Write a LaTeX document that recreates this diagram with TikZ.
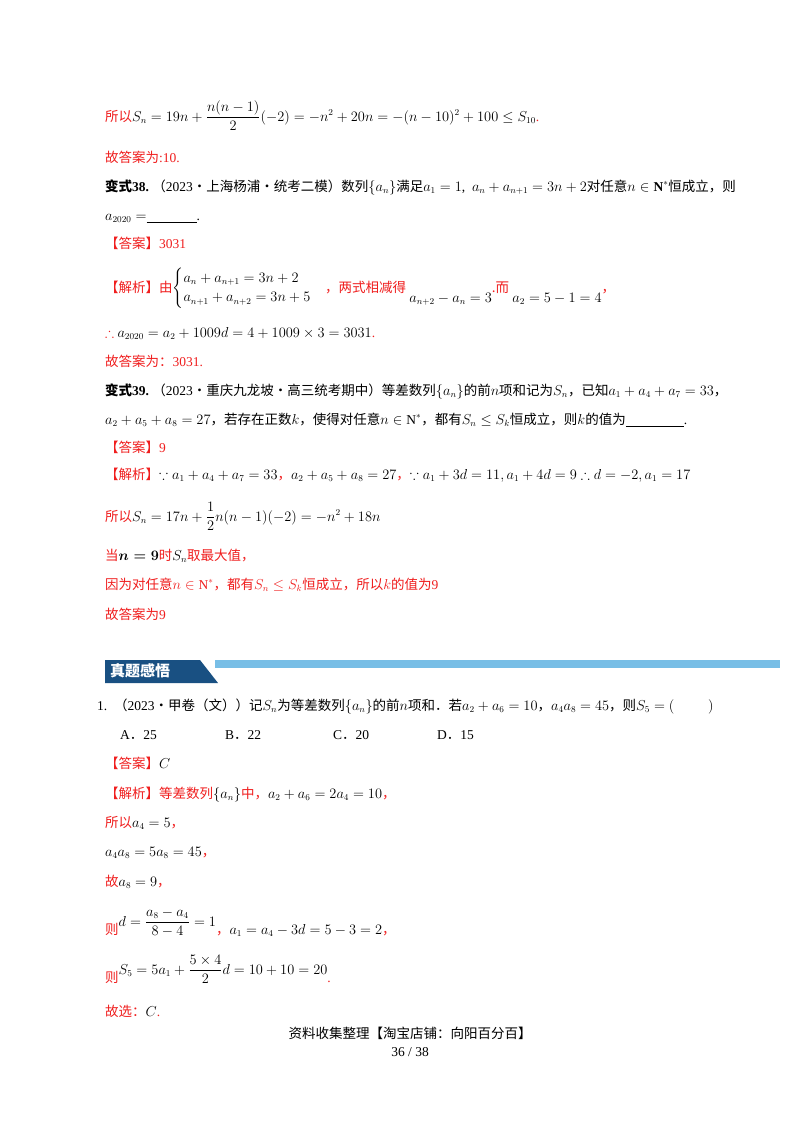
\documentclass[tikz,border=0pt]{standalone}
\usepackage{amsmath,amssymb}
\usepackage{fontspec}
\setmainfont{Liberation Serif}
\newfontfamily\cjk{Noto Sans CJK SC}
\definecolor{rd}{RGB}{240,30,30}
\definecolor{dkb}{RGB}{25,80,130}
\definecolor{ltb}{RGB}{120,190,230}
\newcommand{\zh}[1]{{\cjk #1}}
\newcommand{\R}[1]{\textcolor{rd}{#1}}
\begin{document}
\begin{tikzpicture}[x=1pt,y=-1pt,
  ln/.style={anchor=base west,inner sep=0pt,font=\fontsize{13.5}{16}\selectfont}]
\useasboundingbox (0,0) rectangle (800,1132);
\fill[white] (0,0) rectangle (800,1132);
\node[ln] (l1) at (105,121) {\R{\zh{所以}}$S_n=19n+\dfrac{n(n-1)}{2}(-2)=-n^2+20n=-(n-10)^2+100\le S_{10}$\R{.}};
\node[ln] (l2) at (105,162) {\R{\zh{故答案为}:10.}};
\node[ln] (l3) at (105,191) {\textbf{\zh{变式}38.}\ \zh{（}2023\zh{·上海杨浦·统考二模）数列}$\{a_n\}$\zh{满足}$a_1=1$,\ \ $a_n+a_{n+1}=3n+2$\zh{对任意}$n\in\mathbf{N}^*$\zh{恒成立，则}};
\node[ln] (l4) at (105,220) {$a_{2020}=$\underline{\hspace{50pt}}.};
\node[ln] (l5) at (105,248) {\R{\zh{【答案】}3031}};
\node[ln] (l6) at (105,292) {\R{\zh{【解析】由}}$\begin{cases}a_n+a_{n+1}=3n+2\\ a_{n+1}+a_{n+2}=3n+5\end{cases}$\R{\zh{，两式相减得}}\ \raisebox{-10pt}{$a_{n+2}-a_n=3$}\R{\zh{.而}}\ \raisebox{-10pt}{$a_2=5-1=4$}\R{\zh{，}}};
\node[ln] (l7) at (105,337) {\R{$\therefore$}\ $a_{2020}=a_2+1009d=4+1009\times3=3031$\R{.}};
\node[ln] (l8) at (105,366) {\R{\zh{故答案为：}3031.}};
\node[ln] (l9) at (105,395) {\textbf{\zh{变式}39.}\ \zh{（}2023\zh{·重庆九龙坡·高三统考期中）等差数列}$\{a_n\}$\zh{的前}$n$\zh{项和记为}$S_n$\zh{，已知}$a_1+a_4+a_7=33$\zh{，}};
\node[ln] (l10) at (105,424) {$a_2+a_5+a_8=27$\zh{，若存在正数}$k$\zh{，使得对任意}$n\in\mathrm{N}^*$\zh{，都有}$S_n\le S_k$\zh{恒成立，则}$k$\zh{的值为}\underline{\hspace{58pt}}.};
\node[ln] (l11) at (105,452) {\R{\zh{【答案】}9}};
\node[ln] (l12) at (105,479) {\R{\zh{【解析】}}$\because a_1+a_4+a_7=33$\R{\zh{，}}$a_2+a_5+a_8=27$\R{\zh{，}}$\because a_1+3d=11,a_1+4d=9\therefore d=-2,a_1=17$};
\node[ln] (l13) at (105,521) {\R{\zh{所以}}$S_n=17n+\dfrac12n(n-1)(-2)=-n^2+18n$};
\node[ln] (l14) at (105,560) {\R{\zh{当}}$\boldsymbol{n=9}$\R{\zh{时}}$S_n$\R{\zh{取最大值，}}};
\node[ln] (l15) at (105,589) {\R{\zh{因为对任意}$n\in\mathrm{N}^*$\zh{，都有}$S_n\le S_k$\zh{恒成立，所以}$k$\zh{的值为}9}};
\node[ln] (l16) at (105,619) {\R{\zh{故答案为}9}};
% banner
\fill[ltb] (215,660) rectangle (780,668);
\fill[dkb] (105,660) -- (200,660) -- (218,683) -- (105,683) -- cycle;
\node[anchor=west,inner sep=0pt,text=white,font=\cjk\bfseries\fontsize{15}{16}\selectfont] (ban) at (110,671) {真题感悟};
\node[ln] (l17) at (97,710) {1.\ \ \zh{（}2023\zh{•甲卷（文））记}$S_n$\zh{为等差数列}$\{a_n\}$\zh{的前}$n$\zh{项和．若}$a_2+a_6=10$\zh{，}$a_4a_8=45$\zh{，则}$S_5=(\qquad\ \ )$};
\node[ln] (oa) at (120,739) {A\zh{．}25};
\node[ln] (ob) at (225,739) {B\zh{．}22};
\node[ln] (oc) at (333,739) {C\zh{．}20};
\node[ln] (od) at (437,739) {D\zh{．}15};
\node[ln] (l19) at (105,768) {\R{\zh{【答案】}}$C$};
\node[ln] (l20) at (105,798) {\R{\zh{【解析】等差数列}}$\{a_n\}$\R{\zh{中，}}$a_2+a_6=2a_4=10$\R{\zh{，}}};
\node[ln] (l21) at (105,827) {\R{\zh{所以}}$a_4=5$\R{\zh{，}}};
\node[ln] (l22) at (105,856) {$a_4a_8=5a_8=45$\R{\zh{，}}};
\node[ln] (l23) at (105,886) {\R{\zh{故}}$a_8=9$\R{\zh{，}}};
\node[ln] (l24) at (105,934) {\R{\zh{则}}\raisebox{8pt}{$d=\dfrac{a_8-a_4}{8-4}=1$}\R{\zh{，}}$a_1=a_4-3d=5-3=2$\R{\zh{，}}};
\node[ln] (l25) at (105,982) {\R{\zh{则}}\raisebox{8pt}{$S_5=5a_1+\dfrac{5\times4}{2}d=10+10=20$}\R{.}};
\node[ln] (l26) at (105,1016) {\R{\zh{故选：}}$C$\R{.}};
\node[anchor=base,inner sep=0pt,font=\cjk\fontsize{13.5}{16}\selectfont] (ft) at (410,1038) {资料收集整理【淘宝店铺：向阳百分百】};
\node[anchor=base,inner sep=0pt,font=\fontsize{13.5}{16}\selectfont] (pg) at (410,1056) {36 / 38};
\end{tikzpicture}
\end{document}
